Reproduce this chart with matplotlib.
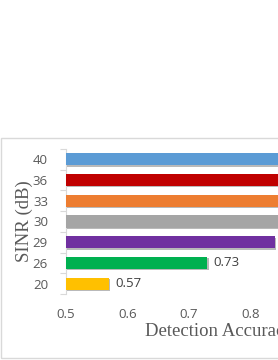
import matplotlib
matplotlib.use('Agg')
import matplotlib.pyplot as plt
import matplotlib.patheffects as pe
from matplotlib.patches import Rectangle

# data (top to bottom as drawn)
sinr = ['20', '26', '29', '30', '33', '36', '40']
accuracy = [0.57, 0.73, 0.84, 0.87, 0.90, 0.93, 0.95]
colors = ['#FFC000', '#00B050', '#7030A0', '#A5A5A5', '#ED7D31', '#C00000', '#5B9BD5']
xticks = [0.5, 0.6, 0.7, 0.8, 0.9, 1.0]

fig = plt.figure(figsize=(2.78, 3.6), dpi=100)
fig.patch.set_facecolor('white')

# chart frame (extends past the right edge, as in the cropped original)
fig.add_artist(Rectangle((1 / 278, 2.5 / 360), 2.0, 219.5 / 360,
                         transform=fig.transFigure, fill=False,
                         edgecolor='#D9D9D9', linewidth=1.0))

ax = fig.add_axes([66 / 278, 66 / 360, 307.5 / 278, 145 / 360])

ypos = range(len(sinr))
bars = ax.barh(ypos, [a - 0.5 for a in accuracy], left=0.5, height=0.58,
               color=colors, zorder=3)
for b in bars:
    b.set_path_effects([pe.SimplePatchShadow(offset=(0.8, -1.0), shadow_rgbFace='#808080', alpha=0.55),
                        pe.Normal()])

# value labels (only the ones inside the cropped view show up)
for y, a in zip(ypos, accuracy):
    if a < 0.8:
        ax.text(a + 0.01, y, f'{a:.2f}', va='center', ha='left',
                fontsize=9.5, color='#404040', family='Open Sans')

ax.set_xlim(0.5, 1.0)
ax.set_ylim(-0.5, len(sinr) - 0.5)
ax.set_xticks(xticks)
ax.set_xticklabels([f'{t:.1f}' for t in xticks])
ax.set_yticks(list(ypos))
ax.set_yticklabels(sinr)
ax.set_yticks([i - 0.5 for i in range(len(sinr) + 1)], minor=True)

ax.tick_params(axis='x', length=0, pad=10, labelsize=9.5, labelcolor='#595959')
ax.tick_params(axis='y', which='major', length=0, pad=13, labelsize=9.5, labelcolor='#595959')
ax.tick_params(axis='y', which='minor', length=4, width=0.8, color='#D9D9D9')
for lab in ax.get_xticklabels() + ax.get_yticklabels():
    lab.set_family('Open Sans')

for s in ['top', 'right', 'bottom']:
    ax.spines[s].set_visible(False)
ax.spines['left'].set_color('#D9D9D9')
ax.spines['left'].set_linewidth(0.8)

ax.set_ylabel('SINR (dB)', family='Liberation Serif', fontsize=13.5, color='#595959')
ax.yaxis.set_label_coords(-0.107, 0.5)
ax.set_xlabel('Detection Accuracy', family='Liberation Serif', fontsize=13.5, color='#595959')
ax.xaxis.set_label_coords(0.5, -0.2)

fig.savefig('out.png', dpi=100, facecolor='white')
